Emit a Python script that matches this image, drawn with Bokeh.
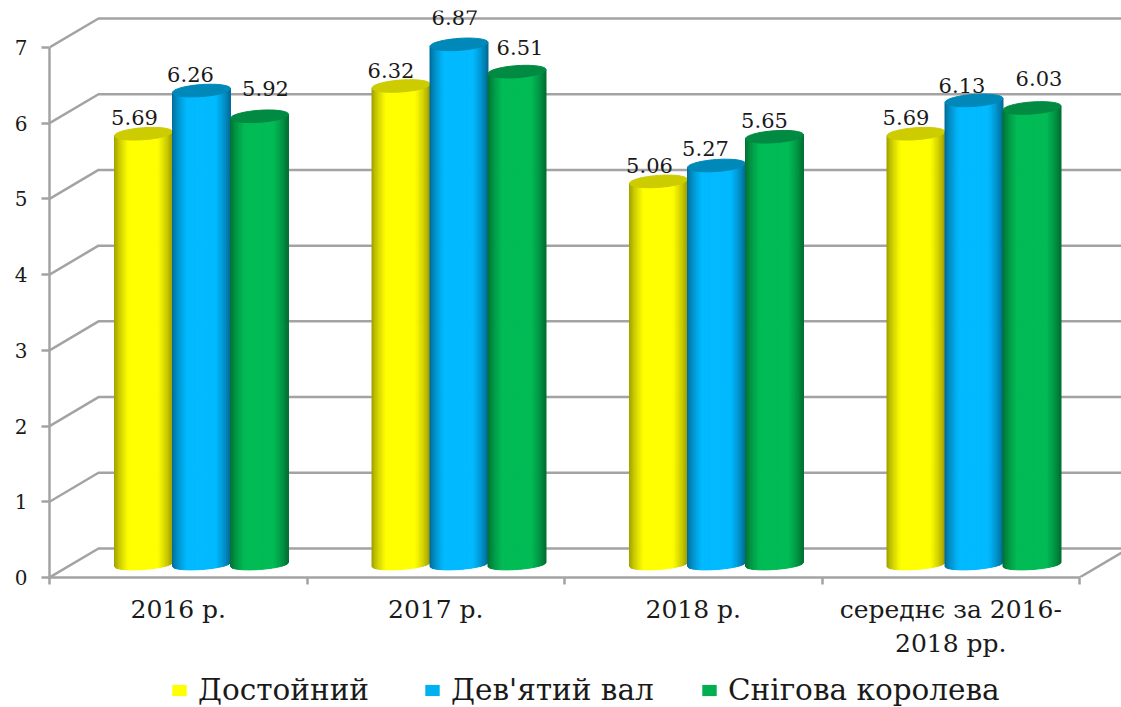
from bokeh.plotting import figure
from bokeh.layouts import column
from bokeh.models import Range1d, FixedTicker, LinearAxis, Legend, LegendItem, ColumnDataSource
from bokeh.embed import file_html
from bokeh.resources import INLINE
from bokeh.core.properties import value
import math

categories = ["2016 р.", "2017 р.", "2018 р.", "середнє за 2016-\n2018 рр."]
series_names = ["Достойний", "Дев'ятий вал", "Снігова королева"]
dostoinyi = [5.69, 6.32, 5.06, 5.69]
deviatyi_val = [6.26, 6.87, 5.27, 6.13]
snihova_koroleva = [5.92, 6.51, 5.65, 6.03]
y_ticks = [0, 1, 2, 3, 4, 5, 6, 7]

series = [dostoinyi, deviatyi_val, snihova_koroleva]
base_cols = [(255, 255, 0), (0, 185, 255), (0, 187, 85)]
dark_cols = [(150, 150, 0), (0, 100, 140), (0, 105, 48)]
top_cols = ["#CCCC00", "#0088B8", "#008A42"]
legend_cols = ["#FFFF00", "#00B0F0", "#00B050"]
legend_x = [121, 374, 651]
GREY = "#A3A3A3"
SERIF = "DejaVu Serif"

# label nudges in screen pixels (series, category)
label_dx = [[-9, -10, -9, -10], [-11, -4, -11, -12], [6, 3, -10, 7]]
label_dy = [[-16, -16, -16, -16], [-16, -27, -17, -15], [-28, -24, -16, -29]]

# pixel scales of the frame
PX_CAT = 257.5
PX_VAL = 75.71
FRAME_W = 1072
FRAME_H = 567
DEPTH_X = 49 / PX_CAT
DEPTH_Y = 29 / PX_VAL

p = figure(frame_width=FRAME_W, frame_height=FRAME_H, output_backend="svg", toolbar_location=None,
           x_range=Range1d(0, FRAME_W / PX_CAT), y_range=Range1d(0, FRAME_H / PX_VAL),
           min_border_left=49, min_border_right=0, min_border_top=10, min_border_bottom=90,
           x_axis_type=None, y_axis_type=None, outline_line_color=None,
           background_fill_color="white")
p.grid.visible = False

# walls
wall_xs, wall_ys = [], []
xmax = FRAME_W / PX_CAT + 0.2
for t in y_ticks:
    wall_xs.append([0, DEPTH_X, xmax])
    wall_ys.append([t, t + DEPTH_Y, t + DEPTH_Y])
wall_xs.append([4, 4 + DEPTH_X])
wall_ys.append([0, DEPTH_Y])
p.multi_line(wall_xs, wall_ys, line_color=GREY, line_width=2.5)

# cylinders
BAR_PX = 58.0
RY = 6.0
RY_BOTTOM = 5.0
TILT = 2.0
BASE_PX = 13.0
N = 44
gx, gy, gc = [], [], []
lx, ly, lt, ldx, ldy = [], [], [], [], []


def mix(a, b, f):
    return "#%02X%02X%02X" % tuple(round(a[i] + (b[i] - a[i]) * f) for i in range(3))


for c in range(4):
    group_px = c * PX_CAT + 152
    for s, vals in enumerate(series):
        cx_px = group_px + (s - 1) * BAR_PX
        rx = BAR_PX / 2
        v = vals[c]
        for i in range(N):
            t0 = -1 + 2 * i / N
            t1 = -1 + 2 * (i + 1) / N
            tm = (t0 + t1) / 2
            f = min(1.0, (1 - abs(tm)) / 0.5) ** 0.7
            col = mix(dark_cols[s], base_cols[s], f)
            xl = (cx_px + rx * t0) / PX_CAT
            xr = (cx_px + rx * t1) / PX_CAT
            ttop = v + (BASE_PX + TILT * t0) / PX_VAL
            ttop2 = v + (BASE_PX + TILT * t1) / PX_VAL
            b0 = (BASE_PX - RY_BOTTOM * math.sqrt(max(0, 1 - t0 * t0)) + TILT * t0) / PX_VAL
            b1 = (BASE_PX - RY_BOTTOM * math.sqrt(max(0, 1 - t1 * t1)) + TILT * t1) / PX_VAL
            gx.append([xl, xr, xr, xl])
            gy.append([b0, b1, ttop2, ttop])
            gc.append(col)
        angs = [2 * math.pi * k / 48 for k in range(48)]
        gx.append([(cx_px + rx * math.cos(a)) / PX_CAT for a in angs])
        gy.append([v + (BASE_PX + RY * math.sin(a) + TILT * math.cos(a)) / PX_VAL for a in angs])
        gc.append(top_cols[s])
        lx.append(cx_px / PX_CAT)
        ly.append(v + BASE_PX / PX_VAL)
        lt.append(f"{v:.2f}")
        ldx.append(label_dx[s][c])
        ldy.append(label_dy[s][c])

p.patches(gx, gy, fill_color=gc, line_color=gc, line_width=1)

lab = ColumnDataSource(dict(x=lx, y=ly, t=lt, dx=ldx, dy=ldy))
p.text("x", "y", text="t", source=lab, x_offset="dx", y_offset="dy", text_align="center",
       text_baseline="middle", text_font=value(SERIF), text_font_size="21px", text_color="#1A1A1A")

# axes
yax = LinearAxis(ticker=FixedTicker(ticks=y_ticks), bounds=(0, 7), axis_line_color=GREY, axis_line_width=2.5,
                 major_tick_line_color=GREY, major_tick_line_width=2.5, major_tick_out=8, major_tick_in=0,
                 minor_tick_line_color=None, major_label_standoff=14,
                 major_label_text_font=SERIF, major_label_text_font_size="20px", major_label_text_color="#1A1A1A")
p.add_layout(yax, "left")

xax = LinearAxis(ticker=FixedTicker(ticks=[0.5, 1.5, 2.5, 3.5], minor_ticks=[0, 1, 2, 3, 4]), bounds=(0, 4),
                 axis_line_color=GREY, axis_line_width=2.5, major_tick_line_color=None, major_tick_out=0,
                 major_tick_in=0, minor_tick_line_color=GREY, minor_tick_line_width=2.5, minor_tick_out=7,
                 minor_tick_in=0, major_label_standoff=10,
                 major_label_overrides={0.5: categories[0], 1.5: categories[1], 2.5: categories[2], 3.5: categories[3]},
                 major_label_text_font=SERIF, major_label_text_font_size="25px", major_label_text_color="#1A1A1A")
p.add_layout(xax, "below")

# legend strip: its key glyphs lie outside the strip's visible range, only the legend shows
q = figure(width=1121, height=40, output_backend="svg", toolbar_location=None,
           x_range=Range1d(0, 1), y_range=Range1d(0, 1), x_axis_type=None, y_axis_type=None,
           min_border=0, outline_line_color=None, background_fill_color="white")
q.grid.visible = False
for name, col, lpos in zip(series_names, legend_cols, legend_x):
    r = q.quad(left=[2], right=[3], top=[3], bottom=[2], fill_color=col, line_color=None)
    q.add_layout(Legend(items=[LegendItem(label=name, renderers=[r])], orientation="horizontal",
                        location=(lpos, 0), background_fill_alpha=0, border_line_color=None,
                        glyph_width=18, glyph_height=14, label_standoff=10, margin=0, padding=0,
                        label_text_font=SERIF, label_text_font_size="29.5px", label_text_color="#1A1A1A"), "center")

open("out.html", "w").write(file_html(column(p, q, spacing=0), INLINE))
